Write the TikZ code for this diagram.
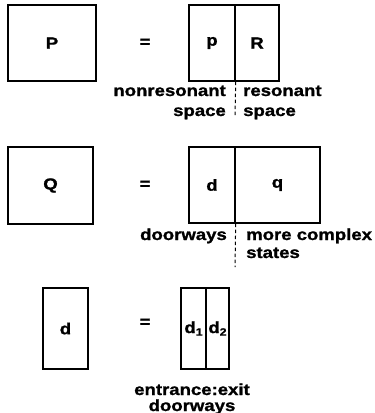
\documentclass[tikz,border=0pt]{standalone}
\usepackage{fontspec}
\setmainfont{Liberation Sans}[FakeStretch=1.16,BoldFeatures={FakeBold=1.2}]
\begin{document}
\begin{tikzpicture}[x=1pt,y=-1pt,
  font=\bfseries\fontsize{16}{19}\selectfont,
  box/.style={draw,line width=1.4pt,inner sep=0pt},
  eq/.style={inner sep=0pt},
  lbl/.style={inner sep=0pt},
  sep/.style={line width=1pt,dash pattern=on 3.5pt off 2.5pt}]
\useasboundingbox (0,0) rectangle (375,413);
% Row 1
\node[box,minimum width=88pt,minimum height=76pt] (P) at (52,43) {P};
\node[eq] (eq1) at (145,43) {=};
\node[box,minimum width=46pt,minimum height=76pt] (p) at (212,43) {p};
\node[box,minimum width=44pt,minimum height=76pt] (R) at (257,43) {R};
\coordinate (s1) at (235,117);
\draw[sep] (p.south east) -- (s1);
\node[lbl,anchor=base east] (nr) at (226,96) {nonresonant};
\node[lbl,anchor=base east] (sp1) at (226,116) {space};
\node[lbl,anchor=base west] (rs) at (243,96) {resonant};
\node[lbl,anchor=base west] (sp2) at (243,116) {space};
% Row 2
\node[box,minimum width=85pt,minimum height=77pt] (Q) at (50.5,185.5) {Q};
\node[eq] (eq2) at (145,185) {=};
\node[box,minimum width=46pt,minimum height=76pt] (d) at (212,185) {d};
\node[box,minimum width=85pt,minimum height=76pt] (q) at (277.5,185) {q};
\coordinate (s2) at (235,267);
\draw[sep] (d.south east) -- (s2);
\node[lbl,anchor=base east] (dw) at (227,240) {doorways};
\node[lbl,anchor=base west] (mc) at (246,240) {more complex};
\node[lbl,anchor=base west] (st) at (246,258) {states};
% Row 3
\node[box,minimum width=45pt,minimum height=81pt] (dd) at (65.5,328.5) {d};
\node[eq] (eq3) at (145,323) {=};
\node[box,minimum width=25pt,minimum height=81pt] (d1) at (193.5,328.5) {d\raisebox{-0.3ex}{\fontsize{10.5}{10}\selectfont 1}};
\node[box,minimum width=23pt,minimum height=81pt] (d2) at (217.5,328.5) {d\raisebox{-0.3ex}{\fontsize{10.5}{10}\selectfont 2}};
\node[lbl,anchor=base] (ex) at (192,395) {entrance:exit};
\node[lbl,anchor=base] (dw2) at (192,411) {doorways};
\end{tikzpicture}
\end{document}
